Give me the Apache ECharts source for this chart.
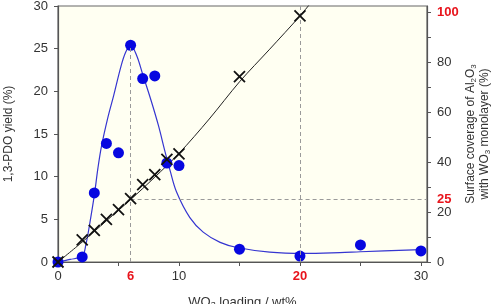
<!DOCTYPE html>
<html>
<head>
<meta charset="utf-8">
<script src="https://cdn.jsdelivr.net/npm/echarts@6/dist/echarts.min.js"></script>
<style>
  html, body { margin: 0; padding: 0; background: #fff; }
  #chart { width: 503px; height: 304px; }
</style>
</head>
<body>
<div id="chart"></div>
<script>
'use strict';

// ---- data ----
// measured yield points: [WO3 loading wt%, 1,3-PDO yield %]
const yieldPts = [[0, 0], [2, 0.6], [3, 8.1], [4, 13.9], [5, 12.8], [6, 25.4], [7, 21.5], [8, 21.8],
  [9, 11.6], [10, 11.3], [15, 1.5], [20, 0.7], [25, 2.0], [30, 1.3]];
// hand-drawn fit through the yield points (traced)
const yieldFit = [[0, 0], [1, 0.3], [2, 0.7], [2.3, 2], [2.6, 4.3], [3.0, 7.8], [3.3, 11], [3.6, 13.6],
  [4.1, 16.8], [4.6, 19.5], [5.2, 22.9], [5.6, 24.6], [6, 25.4], [6.5, 24.2], [7.0, 22], [7.7, 18.9],
  [8.3, 16], [8.85, 12.9], [9.25, 10.8], [9.8, 8.2], [10.9, 5.2], [12.0, 3.5], [13.4, 2.3], [14.8, 1.7],
  [17.5, 1.15], [20.3, 1.0], [23.3, 1.1], [25, 1.2], [30, 1.45]];
// surface coverage points: [WO3 loading wt%, coverage %]
const coverPts = [[0, 0], [2, 8.9], [3, 12.7], [4, 17.1], [5, 21.0], [6, 25.4], [7, 31.0], [8, 35.0],
  [9, 41.1], [10, 43.3], [15, 74.3], [20, 98.6]];
const coverFit = [[0, 0], [2, 8], [4, 16.5], [6, 25], [8, 34], [10, 43.5], [12.5, 57.3], [15, 72.2],
  [17.5, 85.3], [20, 98.6], [21, 104.5]];

// axis ticks / labels
const xTicks = [0, 5, 10, 15, 20, 25, 30];
const xLabels = [0, 6, 10, 20, 30];
const xRed = [6, 20];
const yLeftTicks = [0, 5, 10, 15, 20, 25, 30];
const yRightTicks = [0, 10, 20, 30, 40, 50, 60, 70, 80, 90, 100];
const yRightLabels = [0, 20, 25, 40, 60, 80, 100];
const yRightRed = [25, 100];

// guide lines
const peakX = 6, peakY = 25.4, monoX = 20, coverMark = 25;

const FONT = '"Liberation Sans", Arial, sans-serif';
const txt = '#333';
const red = '#e8141c';
const axisLine = { show: true, lineStyle: { color: '#555', width: 1.2 } };
const tick = { show: true, length: 4, lineStyle: { color: '#555' } };
const dash = { color: '#9a9a9a', type: [4, 3], width: 1 };

const chart = echarts.init(document.getElementById('chart'));
chart.setOption({
  animation: false,
  grid: { left: 58, right: 76, top: 6, bottom: 42, outerBoundsMode: 'none', containLabel: false,
    show: true, backgroundColor: '#fffff2', borderColor: '#666', borderWidth: 1.2 },
  xAxis: {
    type: 'value', min: 0, max: 30.5,
    name: '{t|WO}{s|3}{t| loading / wt%}', nameLocation: 'middle', nameGap: 33, nameMoveOverlap: false,
    nameTextStyle: { rich: { t: { fontFamily: FONT, fontSize: 13, color: txt }, s: { fontFamily: FONT, fontSize: 9, color: txt, padding: [6, 0, 0, 0] } } },
    axisLine, axisTick: { ...tick, customValues: xTicks },
    axisLabel: {
      customValues: xLabels, margin: 8, fontFamily: FONT, fontSize: 13, color: txt,
      formatter: v => xRed.includes(v) ? '{r|' + v + '}' : String(v),
      rich: { r: { fontFamily: FONT, fontSize: 13, fontWeight: 'bold', color: red } },
    },
    splitLine: { show: false },
  },
  yAxis: [
    {
      type: 'value', min: 0, max: 30, position: 'left',
      name: '1,3-PDO yield (%)', nameLocation: 'middle', nameGap: 43, nameMoveOverlap: false,
      nameTextStyle: { fontFamily: FONT, fontSize: 12, color: txt },
      axisLine, axisTick: { ...tick, customValues: yLeftTicks },
      axisLabel: { customValues: yLeftTicks, margin: 10, fontFamily: FONT, fontSize: 13, color: txt },
      splitLine: { show: false },
    },
    {
      type: 'value', min: 0, max: 102.6, position: 'right',
      name: '{t|Surface coverage of Al}{s|2}{t|O}{s|3}\n{t|with WO}{s|3}{t| monolayer (%)}',
      nameLocation: 'middle', nameGap: 37, nameMoveOverlap: false,
      nameTextStyle: { lineHeight: 14, rich: { t: { fontFamily: FONT, fontSize: 12, color: txt, lineHeight: 14 }, s: { fontFamily: FONT, fontSize: 8, color: txt, padding: [6, 0, 0, 0] } } },
      axisLine, axisTick: { ...tick, customValues: yRightTicks },
      axisLabel: {
        customValues: yRightLabels, margin: 10, fontFamily: FONT, fontSize: 13, color: txt,
        formatter: v => yRightRed.includes(v) ? '{r|' + v + '}' : String(v),
        rich: { r: { fontFamily: FONT, fontSize: 13, fontWeight: 'bold', color: red } },
      },
      splitLine: { show: false },
    },
  ],
  series: [
    {
      name: 'guides', type: 'line', data: [], silent: true,
      markLine: {
        silent: true, symbol: 'none', label: { show: false }, lineStyle: dash,
        data: [
          [{ coord: [peakX, 0] }, { coord: [peakX, peakY] }],
          [{ coord: [monoX, 0] }, { coord: [monoX, 30] }],
        ],
      },
    },
    {
      name: 'guides2', type: 'line', yAxisIndex: 1, data: [], silent: true,
      markLine: {
        silent: true, symbol: 'none', label: { show: false }, lineStyle: dash,
        data: [[{ coord: [peakX, coverMark] }, { coord: [30.5, coverMark] }]],
      },
    },
    {
      name: 'yield fit', type: 'line', data: yieldFit, smooth: 0.35, showSymbol: false, silent: true,
      lineStyle: { color: '#3535d0', width: 1.2 }, z: 3,
    },
    {
      name: 'coverage fit', type: 'line', yAxisIndex: 1, data: coverFit, smooth: 0.3, showSymbol: false, silent: true,
      lineStyle: { color: '#222', width: 1 }, z: 3,
    },
    {
      name: 'yield', type: 'scatter', data: yieldPts, symbolSize: 11,
      itemStyle: { color: '#0707e0', opacity: 1 }, z: 4,
    },
    {
      name: 'coverage', type: 'scatter', yAxisIndex: 1, data: coverPts, symbolSize: 11,
      symbol: 'path://M0,0L10,10M10,0L0,10', symbolKeepAspect: true,
      itemStyle: { color: 'transparent', borderColor: '#111', borderWidth: 1.8, opacity: 1 }, z: 5,
    },
  ],
});
</script>
</body>
</html>
